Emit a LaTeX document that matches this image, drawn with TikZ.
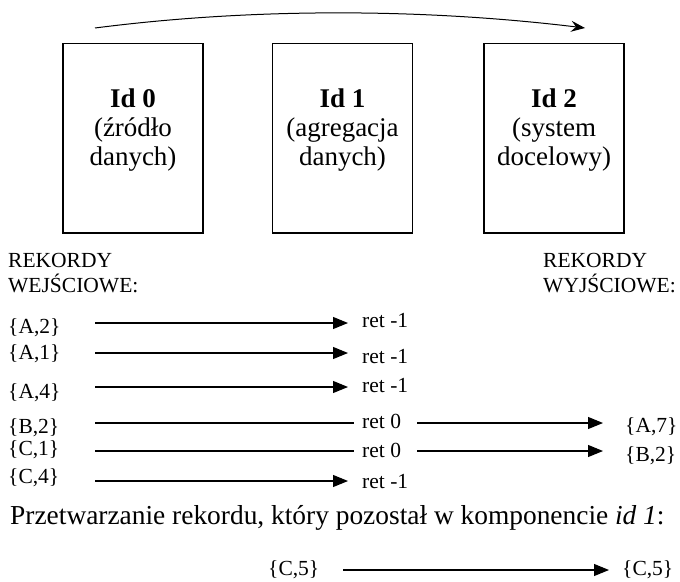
\documentclass[tikz,border=0pt]{standalone}
\usepackage{fontspec}
\setmainfont{Liberation Serif}
\usetikzlibrary{arrows.meta}
\begin{document}
\begin{tikzpicture}[x=1pt,y=-1pt,
  box/.style={draw, line width=1.1pt, minimum width=140pt, minimum height=189.5pt, inner sep=0},
  boxtxt/.style={align=center, inner sep=0, anchor=north, font=\fontsize{27}{29}\selectfont},
  lbl/.style={inner sep=0, anchor=base west, font=\fontsize{21.5}{25.5}\selectfont},
  hdr/.style={inner sep=0, anchor=north west, align=left, font=\fontsize{21.5}{25.5}\selectfont},
  arr/.style={line width=1.1pt, -{Triangle[length=15pt,width=12pt]}},
  ln/.style={line width=1.1pt},
  toparr/.style={line width=1pt, -{Stealth[length=14pt,width=11pt,inset=5pt]}}
]
\useasboundingbox (0,0) rectangle (680,581);

% boxes
\node[box] (b0) at (133,138.25) {};
\node[box] (b1) at (342.5,138.25) {};
\node[box] (b2) at (554,138.25) {};
\node[boxtxt] (t0) at (133,88.5) {\textbf{Id 0}\\(źródło\\danych)};
\node[boxtxt] (t1) at (342.5,88.5) {\textbf{Id 1}\\(agregacja\\danych)};
\node[boxtxt] (t2) at (554,88.5) {\textbf{Id 2}\\(system\\docelowy)};

% top arrow
\coordinate (ts) at (95,28);
\coordinate (te) at (585,28);
\draw[toparr] (ts) .. controls (250,8) and (420,8) .. (te);

% headers
\node[hdr] (hin) at (8,252.8) {REKORDY\\WEJŚCIOWE:};
\node[hdr] (hout) at (543,252.8) {REKORDY\\WYJŚCIOWE:};

% input records
\node[lbl] (i1) at (8,333) {\{A,2\}};
\node[lbl] (i2) at (8,359) {\{A,1\}};
\node[lbl] (i3) at (8,398) {\{A,4\}};
\node[lbl] (i4) at (8,433) {\{B,2\}};
\node[lbl] (i5) at (8,455) {\{C,1\}};
\node[lbl] (i6) at (8,483) {\{C,4\}};

% return values
\node[lbl] (r1) at (362,327) {ret -1};
\node[lbl] (r2) at (362,363) {ret -1};
\node[lbl] (r3) at (362,392) {ret -1};
\node[lbl] (r4) at (362,428) {ret 0};
\node[lbl] (r5) at (362,457) {ret 0};
\node[lbl] (r6) at (362,488) {ret -1};

% outputs
\node[lbl] (o4) at (625,432) {\{A,7\}};
\node[lbl] (o5) at (625,461) {\{B,2\}};

% arrow coordinates
\coordinate (s1) at (95,323); \coordinate (e1) at (348,323);
\coordinate (s2) at (95,353); \coordinate (e2) at (348,353);
\coordinate (s3) at (95,387); \coordinate (e3) at (348,387);
\coordinate (s4) at (95,423); \coordinate (m4) at (354,423);
\coordinate (n4) at (417,423); \coordinate (e4) at (603,423);
\coordinate (s5) at (95,451); \coordinate (m5) at (354,451);
\coordinate (n5) at (417,451); \coordinate (e5) at (603,451);
\coordinate (s6) at (95,481); \coordinate (e6) at (348,481);

\draw[arr] (s1) -- (e1);
\draw[arr] (s2) -- (e2);
\draw[arr] (s3) -- (e3);
\draw[ln] (s4) -- (m4);
\draw[arr] (n4) -- (e4);
\draw[ln] (s5) -- (m5);
\draw[arr] (n5) -- (e5);
\draw[arr] (s6) -- (e6);

% bottom
\node[inner sep=0, anchor=base west, font=\fontsize{27.4}{30}\selectfont] (txt) at (10,524)
  {Przetwarzanie rekordu, który pozostał w komponencie \textit{id 1}:};
\node[lbl] (c5a) at (268,575) {\{C,5\}};
\node[lbl] (c5b) at (622,575) {\{C,5\}};
\coordinate (s7) at (343,570); \coordinate (e7) at (609,570);
\draw[arr] (s7) -- (e7);
\end{tikzpicture}
\end{document}
